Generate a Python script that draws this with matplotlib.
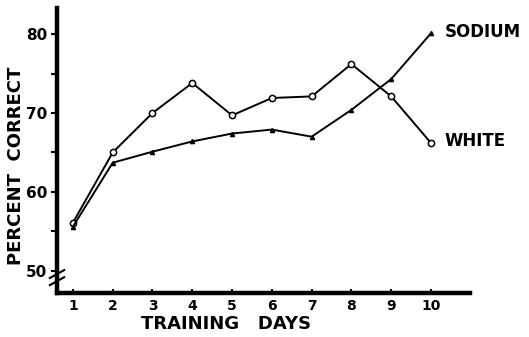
import matplotlib.pyplot as plt
import numpy as np

days = [1, 2, 3, 4, 5, 6, 7, 8, 9, 10]
white = [56.1, 65.0, 70.0, 73.8, 69.7, 71.9, 72.1, 76.2, 72.1, 66.2]
sodium = [55.6, 63.7, 65.1, 66.4, 67.4, 67.9, 67.0, 70.4, 74.3, 80.1]
yticks_major = [50, 60, 70, 80]
yticks_minor = [55, 65, 75]

plt.rcParams['font.family'] = ['DejaVu Sans']
plt.rcParams['font.weight'] = 'bold'

fig = plt.figure(figsize=(5.29, 3.37), dpi=100)
W, H = 529, 337
ax = fig.add_axes([57 / W, (H - 293) / H, (470 - 57) / W, (293 - 8) / H])

ax.plot(days, white, color='black', lw=1.4, marker='o', ms=4.5,
        mfc='white', mec='black', mew=1.1)
ax.plot(days, sodium, color='black', lw=1.4, marker='^', ms=3,
        mfc='black', mec='black')

ax.set_xlim(0.6, 10.98)
ax.set_ylim(47.2, 83.3)

for side in ['top', 'right']:
    ax.spines[side].set_visible(False)
for side in ['left', 'bottom']:
    ax.spines[side].set_linewidth(3.2)

ax.set_xticks(days)
ax.set_xticklabels([str(d) for d in days], fontsize=10, fontweight='bold')
ax.tick_params(axis='x', direction='in', length=3, width=1.5, pad=4)
ax.set_yticks(yticks_major)
ax.set_yticklabels([str(v) for v in yticks_major], fontsize=11, fontweight='bold')
ax.set_yticks(yticks_minor, minor=True)
ax.tick_params(axis='y', which='both', direction='out', length=4, width=1.5, pad=3)

# axis titles placed in figure pixels
fig.text(16 / W, 1 - 166 / H, 'PERCENT  CORRECT', rotation=90, fontsize=13,
         fontweight='bold', ha='center', va='center')
fig.text(226 / W, 1 - 324 / H, 'TRAINING   DAYS', fontsize=13,
         fontweight='bold', ha='center', va='center')

# series names at the line ends
ax.text(days[-1] + 0.35, sodium[-1] + 0.1, 'SODIUM', fontsize=12,
        fontweight='bold', va='center', ha='left', clip_on=False)
ax.text(days[-1] + 0.35, white[-1] + 0.3, 'WHITE', fontsize=12,
        fontweight='bold', va='center', ha='left', clip_on=False)

# axis break marks near the bottom of the y axis
for dy in (0, 0.9):
    ax.plot([0.42, 0.78], [48.2 + dy, 49.2 + dy], color='black', lw=1.5,
            clip_on=False)

fig.savefig('out.png', dpi=100)
